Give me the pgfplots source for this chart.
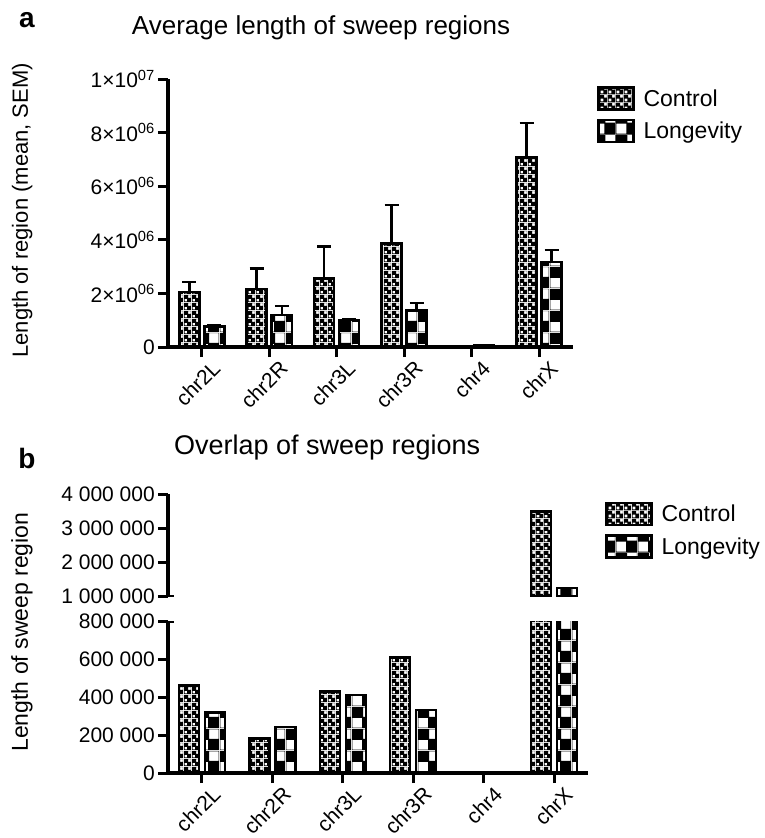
\documentclass[border=0pt]{standalone}
\usepackage{fontspec}
\setmainfont{Liberation Sans}
\usepackage{pgfplots}
\usepackage{pgfplotstable}
\pgfplotsset{compat=1.18}
\usetikzlibrary{patterns}

% fine checkerboard (Control) and coarse checkerboard (Longevity)
\pgfdeclarepatternformonly{finecheck}{\pgfqpoint{0pt}{0pt}}{\pgfqpoint{8pt}{8pt}}{\pgfqpoint{8pt}{8pt}}{%
  \pgfseteorule
  \pgfpathrectangle{\pgfqpoint{0pt}{0pt}}{\pgfqpoint{8pt}{8pt}}%
  \pgfpathrectangle{\pgfqpoint{0.6pt}{0.6pt}}{\pgfqpoint{3pt}{3pt}}%
  \pgfpathrectangle{\pgfqpoint{4.6pt}{4.6pt}}{\pgfqpoint{3pt}{3pt}}%
  \pgfusepath{fill}}
\pgfdeclarepatternformonly{coarsecheck}{\pgfqpoint{0pt}{0pt}}{\pgfqpoint{22pt}{22pt}}{\pgfqpoint{22pt}{22pt}}{%
  \pgfseteorule
  \pgfpathrectangle{\pgfqpoint{0pt}{0pt}}{\pgfqpoint{22pt}{22pt}}%
  \pgfpathrectangle{\pgfqpoint{0.5pt}{0.5pt}}{\pgfqpoint{10pt}{10pt}}%
  \pgfpathrectangle{\pgfqpoint{11.5pt}{11.5pt}}{\pgfqpoint{10pt}{10pt}}%
  \pgfusepath{fill}}

\newcommand\tickfont{\fontsize{21pt}{24pt}\selectfont}
\newcommand\labfont{\fontsize{22pt}{26pt}\selectfont}
\newcommand\legfont{\fontsize{23pt}{26pt}\selectfont}

% average length (mean) and SEM
\pgfplotstableread{
x ctrl ctrlerr lon lonerr
0 2050000 370000 770000 40000
1 2160000 760000 1200000 330000
2 2550000 1200000 1000000 50000
3 3870000 1430000 1370000 270000
4 0 0 50000 10000
5 7080000 1280000 3170000 450000
}\avglen

% overlap of sweep regions
\pgfplotstableread{
x ctrl lon
0 462000 320000
1 181000 243000
2 430000 413000
3 610000 334000
4 0 0
5 3480000 1230000
}\overlap

\pgfplotsset{
  gp/.style={
    scale only axis,
    axis y line*=left,
    axis line style={line width=3.5pt, -},
    tick align=outside,
    major tick length=10pt,
    every tick/.style={black, line width=3pt},
    scaled y ticks=false,
    xtick={0,...,5},
    xticklabels={chr2L,chr2R,chr3L,chr3R,chr4,chrX},
    xticklabel style={rotate=45, anchor=north east, font=\tickfont, inner sep=0pt,
      xshift=5pt, yshift=-8pt},
    yticklabel style={font=\tickfont, inner sep=3pt},
    ybar, bar width=20pt,
    legend style={draw=none, inner sep=0pt, font=\legfont, legend cell align=left,
      row sep=8pt, /tikz/every odd column/.append style={column sep=7pt}},
  },
  ctrl/.style={draw=black, line width=2.5pt, pattern=finecheck, pattern color=black},
  lon/.style={draw=black, line width=2.5pt, pattern=coarsecheck, pattern color=black},
  ebar/.style={error bars/.cd, y dir=plus, y explicit,
    error bar style={line width=2.5pt, draw=black, solid},
    error mark options={rotate=90, mark size=7pt, line width=2.5pt, black}},
}

\begin{document}
\begin{tikzpicture}
\useasboundingbox (0pt,0pt) rectangle (764pt,-838pt);

% ---- panel a ----
\node[font=\fontsize{28pt}{32pt}\selectfont\bfseries] at (27pt,-20pt) {a};
\begin{axis}[gp,
  at={(168pt,-347pt)}, anchor=south west,
  width=405pt, height=268pt,
  axis x line*=bottom,
  xmin=-0.5, xmax=5.5, ymin=0, ymax=10000000,
  ybar=5pt,
  ytick={0,2000000,4000000,6000000,8000000,10000000},
  yticklabels={0,2×10\textsuperscript{06},4×10\textsuperscript{06},6×10\textsuperscript{06},8×10\textsuperscript{06},1×10\textsuperscript{07}},
  title={Average length of sweep regions},
  title style={font=\fontsize{26pt}{30pt}\selectfont, at={(axis description cs:0.378,1.168)}, anchor=center},
  ylabel={Length of region (mean, SEM)},
  ylabel style={font=\labfont, at={(axis description cs:-0.36,0.51)}, anchor=center},
  legend image code/.code={\draw[#1] (0pt,-11pt) rectangle (35pt,11pt);},
  legend style={at={(axis description cs:1.059,0.974)}, anchor=north west},
]
\addplot[ctrl, ebar] table[x=x, y=ctrl, y error=ctrlerr] {\avglen};
\addlegendentry{Control}
\addplot[lon, ebar] table[x=x, y=lon, y error=lonerr] {\avglen};
\addlegendentry{Longevity}
\end{axis}

% ---- panel b ----
\node[font=\fontsize{28pt}{32pt}\selectfont\bfseries] at (27pt,-458pt) {b};
% lower segment of the broken axis
\begin{axis}[gp,
  at={(168pt,-773pt)}, anchor=south west,
  width=420pt, height=151.5pt,
  axis x line*=bottom,
  xmin=-0.48, xmax=5.48, ymin=0, ymax=800000,
  ybar=6pt,
  ytick={0,200000,400000,600000,800000},
  yticklabels={0,200 000,400 000,600 000,800 000},
  ylabel={Length of sweep region},
  ylabel style={font=\fontsize{23pt}{26pt}\selectfont, at={(axis description cs:-0.348,0.93)}, anchor=center},
]
\addplot[ctrl] table[x=x, y=ctrl] {\overlap};
\addplot[lon] table[x=x, y=lon] {\overlap};
\draw[line width=3pt] ([xshift=-10pt]rel axis cs:0,1) -- ([xshift=6pt]rel axis cs:0,1);
\end{axis}
% upper segment of the broken axis (only values above the break)
\begin{axis}[gp,
  at={(168pt,-596pt)}, anchor=south west,
  width=420pt, height=102pt,
  axis x line=none,
  xmin=-0.48, xmax=5.48, ymin=1000000, ymax=4000000,
  restrict y to domain=1000000:4000000,
  ybar=6pt,
  ytick={1000000,2000000,3000000,4000000},
  yticklabels={1 000 000,2 000 000,3 000 000,4 000 000},
  title={Overlap of sweep regions},
  title style={font=\fontsize{27pt}{31pt}\selectfont, at={(axis description cs:0.379,1.40)}, anchor=center},
  legend image code/.code={\draw[#1] (0pt,-11pt) rectangle (45pt,11pt);},
  legend style={at={(axis description cs:1.040,0.925)}, anchor=north west},
]
\addplot[ctrl] table[x=x, y=ctrl] {\overlap};
\addlegendentry{Control}
\addplot[lon] table[x=x, y=lon] {\overlap};
\addlegendentry{Longevity}
\draw[line width=3pt] ([xshift=-10pt]rel axis cs:0,0) -- ([xshift=6pt]rel axis cs:0,0);
\end{axis}
\end{tikzpicture}
\end{document}
